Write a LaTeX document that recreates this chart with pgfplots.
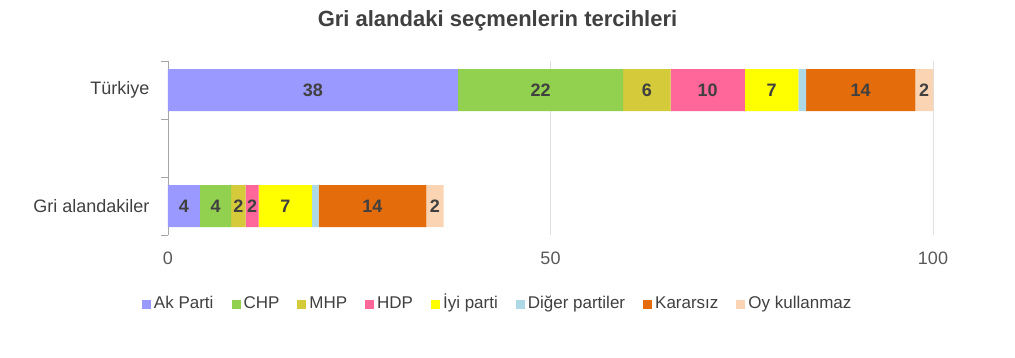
\documentclass[border=0pt]{standalone}
\usepackage{pgfplots}
\pgfplotsset{compat=1.18}
\usepackage{fontspec}
\setmainfont{Liberation Sans}
\definecolor{cAk}{HTML}{9999FF}
\definecolor{cCHP}{HTML}{92D050}
\definecolor{cMHP}{HTML}{D4CA3A}
\definecolor{cHDP}{HTML}{FF6699}
\definecolor{cIyi}{HTML}{FFFF00}
\definecolor{cDiger}{HTML}{ADD8E6}
\definecolor{cKar}{HTML}{E46C0A}
\definecolor{cOy}{HTML}{FBD4B4}
\definecolor{txt}{HTML}{404040}
\begin{document}
\begin{tikzpicture}[x=1pt,y=1pt]
\path[use as bounding box] (0,0) rectangle (1015,357);
\node[font=\bfseries\fontsize{22}{24}\selectfont, text=txt] at (497.5,336) {Gri alandaki seçmenlerin tercihleri};
\begin{axis}[
  at={(168pt,122pt)}, anchor=south west,
  scale only axis, width=765pt, height=174pt,
  xbar stacked, bar width=42pt,
  xmin=0, xmax=100, ymin=-0.5, ymax=2.5,
  xtick={0,50,100},
  ytick={0,2}, yticklabels={Gri alandakiler, Türkiye},
  minor ytick={-0.5,0.5,1.5,2.5},
  major tick length=0pt, minor tick length=7pt, tick align=outside,
  axis y line*=left, axis x line*=bottom,
  x axis line style={draw=none},
  y axis line style={draw=gray!70, line width=0.8pt},
  tick style={draw=gray!70, line width=0.8pt},
  xmajorgrids, grid style={draw=gray!25, line width=0.8pt},
  /pgf/number format/assume math mode=true,
  xticklabel style={font=\fontsize{18}{20}\selectfont, text=black!65, yshift=-13pt},
  yticklabel style={font=\fontsize{18}{20}\selectfont, text=txt, xshift=-15pt},
  legend style={at={(0.431,-0.397)}, anchor=center, draw=none, legend columns=8,
    font=\fontsize{17}{19}\selectfont, text=txt,
    nodes={text height=12.5pt, text depth=3.5pt},
    /tikz/every even column/.append style={column sep=16pt},
    /tikz/every odd column/.append style={column sep=1pt}},
  legend image code/.code={\fill[#1] (0pt,-4.5pt) rectangle (9pt,4.5pt);},
  nnc/.style={nodes near coords={\pgfmathprintnumber[fixed,precision=0]{\pgfplotspointmeta}},
    every node near coord/.append style={anchor=center,
      font=\bfseries\fontsize{18}{20}\selectfont, text=txt}},
]
\addplot[fill=cAk, draw=none, nnc] coordinates {(4.18,0) (37.9,2)};
\addplot[fill=cCHP, draw=none, nnc] coordinates {(4.06,0) (21.6,2)};
\addplot[fill=cMHP, draw=none, nnc] coordinates {(1.91,0) (6.2,2)};
\addplot[fill=cHDP, draw=none, nnc] coordinates {(1.70,0) (9.7,2)};
\addplot[fill=cIyi, draw=none, nnc] coordinates {(6.97,0) (7.0,2)};
\addplot[fill=cDiger, draw=none] coordinates {(0.87,0) (1.0,2)};
\addplot[fill=cKar, draw=none, nnc] coordinates {(14.08,0) (14.3,2)};
\addplot[fill=cOy, draw=none, nnc] coordinates {(2.26,0) (2.3,2)};
\legend{Ak Parti, CHP, MHP, HDP, İyi parti, Diğer partiler, Kararsız, Oy kullanmaz}
\end{axis}
\end{tikzpicture}
\end{document}
